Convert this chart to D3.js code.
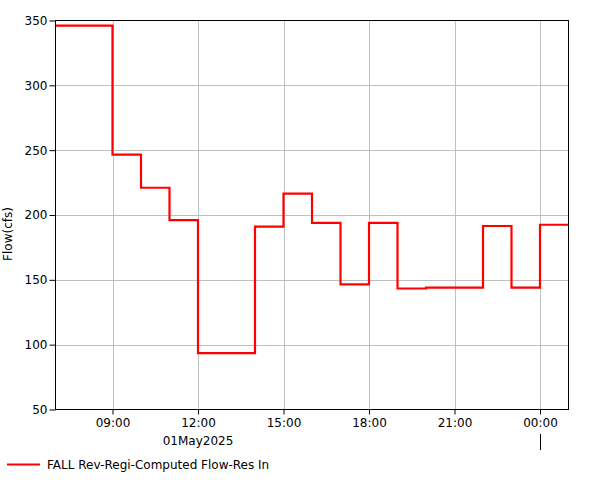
<!DOCTYPE html>
<html><head><meta charset="utf-8">
<script src="https://cdn.jsdelivr.net/npm/d3@7"></script>
<style>body{margin:0;background:#fff}svg{display:block}text{font-family:"DejaVu Sans",sans-serif;}</style>
</head><body><svg id="c" width="601" height="480"></svg>
<script>
const times = ["2025-05-01T07:00","2025-05-01T09:00","2025-05-01T10:00","2025-05-01T11:00","2025-05-01T12:00","2025-05-01T14:00","2025-05-01T15:00","2025-05-01T16:00","2025-05-01T17:00","2025-05-01T18:00","2025-05-01T19:00","2025-05-01T20:00","2025-05-01T22:00","2025-05-01T23:00","2025-05-02T00:00","2025-05-02T01:00"];
const flows = [346,246.5,221,196,93.5,191,216.5,194,146.5,194,143.3,144,191.5,144,192.5,192.5];
const yTicks = [50,100,150,200,250,300,350];
const dateLabel = "01May2025";
const seriesName = "FALL Rev-Regi-Computed Flow-Res In";
const yTitle = "Flow(cfs)";

const parse = d3.utcParse("%Y-%m-%dT%H:%M");
const data = times.map((t,i)=>({t:parse(t), v:flows[i]}));
const svg = d3.select("#c");
const L=55.5, R=568.5, T=20.5, B=409.5;
const x = d3.scaleUtc().domain([data[0].t, data[data.length-1].t]).range([L,R]);
const y = d3.scaleLinear().domain([50,350]).range([B,T]);
const xt = x.ticks(d3.utcHour.every(3));

const g = svg.append("g");
// grid
g.selectAll("line.vg").data(xt).join("line").attr("x1",d=>Math.round(x(d))+0.5).attr("x2",d=>Math.round(x(d))+0.5)
 .attr("y1",T).attr("y2",B).attr("stroke","#c0c0c0");
g.selectAll("line.hg").data(yTicks.filter(d=>d>50&&d<350)).join("line").attr("y1",d=>Math.round(y(d))+0.5).attr("y2",d=>Math.round(y(d))+0.5)
 .attr("x1",L).attr("x2",R).attr("stroke","#c0c0c0");
// series
const line = d3.line().x(d=>x(d.t)).y(d=>y(d.v)).curve(d3.curveStepAfter);
g.append("path").datum(data).attr("d",line).attr("fill","none").attr("stroke","#ff0000").attr("stroke-width",2.2);
// frame
g.append("rect").attr("x",L).attr("y",T).attr("width",R-L).attr("height",B-T).attr("fill","none").attr("stroke","#000");
// y axis
const ya = d3.axisLeft(y).tickValues(yTicks).tickSize(6).tickPadding(2);
svg.append("g").attr("transform",`translate(${L},0)`).call(ya).call(s=>{s.select(".domain").remove();
 s.selectAll("text").attr("font-size",12).attr("font-family","DejaVu Sans").attr("fill","#000");});
// x axis
const xa = d3.axisBottom(x).tickValues(xt).tickSize(5).tickPadding(4).tickFormat(d3.utcFormat("%H:%M"));
svg.append("g").attr("transform",`translate(0,${B})`).call(xa).call(s=>{s.select(".domain").remove();
 s.selectAll("text").attr("font-size",12).attr("font-family","DejaVu Sans").attr("fill","#000");});
// day boundary tick
const dayB = xt.filter(d=>d.getUTCHours()===0);
svg.selectAll("line.db").data(dayB).join("line").attr("x1",d=>Math.round(x(d))+0.5).attr("x2",d=>Math.round(x(d))+0.5)
 .attr("y1",434).attr("y2",450).attr("stroke","#000");
svg.append("text").attr("x",x(parse("2025-05-01T12:00"))).attr("y",445).attr("text-anchor","middle").attr("font-size",12).text(dateLabel);
// y title
svg.append("text").attr("transform","translate(12,234) rotate(-90)").attr("text-anchor","middle").attr("font-size",12).text(yTitle);
// legend
svg.append("line").attr("x1",7).attr("x2",40).attr("y1",464.5).attr("y2",464.5).attr("stroke","#ff0000").attr("stroke-width",2);
svg.append("text").attr("x",47).attr("y",469).attr("font-size",12).text(seriesName);
</script></body></html>
